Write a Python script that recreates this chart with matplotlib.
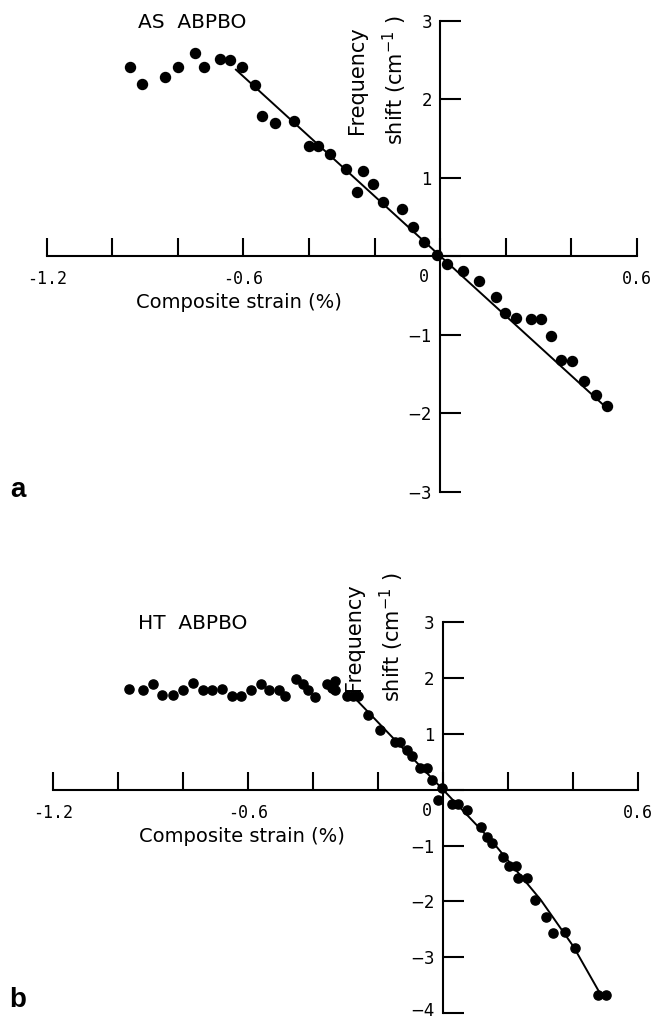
import numpy as np
import matplotlib
matplotlib.use('Agg')
import matplotlib.pyplot as plt
import matplotlib.transforms as mtransforms

############ data ############

# panel a : AS ABPBO
a_strain = [-0.946, -0.909, -0.840, -0.800, -0.749, -0.721, -0.671, -0.641, -0.603,
            -0.565, -0.542, -0.505, -0.446, -0.401, -0.373, -0.335, -0.287, -0.255,
            -0.234, -0.204, -0.174, -0.117, -0.083, -0.048, -0.010, 0.020, 0.069,
            0.119, 0.170, 0.198, 0.230, 0.276, 0.306, 0.339, 0.367, 0.402, 0.437,
            0.475, 0.510]
a_shift = [2.41, 2.20, 2.29, 2.41, 2.59, 2.41, 2.51, 2.50, 2.42,
           2.19, 1.79, 1.70, 1.72, 1.41, 1.41, 1.30, 1.11, 0.82,
           1.09, 0.92, 0.70, 0.60, 0.37, 0.18, 0.02, -0.09, -0.18,
           -0.31, -0.51, -0.72, -0.78, -0.80, -0.80, -1.01, -1.32, -1.33, -1.59,
           -1.77, -1.90]
a_fit_x = [-0.623, 0.513]
a_fit_y = [2.38, -1.95]

# panel b : HT ABPBO
b_strain = [-0.966, -0.922, -0.891, -0.863, -0.831, -0.799, -0.770, -0.739, -0.711,
            -0.681, -0.650, -0.621, -0.591, -0.560, -0.534, -0.504, -0.486, -0.452,
            -0.432, -0.414, -0.394, -0.358, -0.332, -0.342, -0.332, -0.296, -0.278,
            -0.261, -0.230, -0.194, -0.148, -0.132, -0.112, -0.097, -0.071, -0.050,
            -0.035, -0.004, -0.015, 0.026, 0.047, 0.073, 0.117, 0.134, 0.149,
            0.183, 0.204, 0.224, 0.231, 0.259, 0.283, 0.316, 0.339, 0.375,
            0.405, 0.477, 0.501]
b_shift = [1.80, 1.79, 1.89, 1.69, 1.69, 1.79, 1.91, 1.79, 1.79,
           1.80, 1.68, 1.68, 1.79, 1.89, 1.79, 1.79, 1.68, 1.98,
           1.89, 1.78, 1.66, 1.89, 1.95, 1.82, 1.78, 1.67, 1.67,
           1.67, 1.34, 1.07, 0.86, 0.86, 0.71, 0.61, 0.39, 0.39,
           0.18, 0.03, -0.18, -0.26, -0.26, -0.36, -0.67, -0.84, -0.96,
           -1.21, -1.36, -1.36, -1.58, -1.58, -1.97, -2.27, -2.57, -2.55,
           -2.83, -3.67, -3.67]
b_fit_x = [-0.27, -0.12, 0.0, 0.15, 0.30, 0.40, 0.48]
b_fit_y = [1.63, 0.72, 0.0, -0.92, -1.97, -2.80, -3.62]

xticks = [-1.2, -1.0, -0.8, -0.6, -0.4, -0.2, 0.0, 0.2, 0.4, 0.6]
xticklabels = ['-1.2', '', '', '-0.6', '', '', '', '', '', '0.6']

W, H = 653, 1019
fig = plt.figure(figsize=(W / 100, H / 100), dpi=100)

def px_axes(x0, x1, ytop, ybot):
    # axes placed from pixel positions of the data limits
    return fig.add_axes([x0 / W, 1 - ybot / H, (x1 - x0) / W, (ybot - ytop) / H])

def setup(ax, ymin, ymax):
    ax.set_xlim(-1.2, 0.6)
    ax.set_ylim(ymin, ymax)
    for s in ['top', 'right']:
        ax.spines[s].set_visible(False)
    ax.spines['left'].set_position(('data', 0))
    ax.spines['bottom'].set_position(('data', 0))
    ax.spines['left'].set_linewidth(1.5)
    ax.spines['bottom'].set_linewidth(1.5)
    ax.patch.set_alpha(0)
    ax.set_xticks(xticks)
    ax.set_xticklabels(xticklabels, family='DejaVu Sans Mono', fontsize=12)
    yt = [v for v in range(ymin, ymax + 1)]
    ax.set_yticks(yt)
    ax.set_yticklabels([str(v).replace('-', '\u2212') if v != 0 else '' for v in yt],
                       fontsize=12)
    ax.tick_params(axis='x', direction='in', length=13, width=1.5, pad=10)
    ax.tick_params(axis='y', direction='in', length=15, width=1.5, pad=6)
    # "0" sits left of the vertical axis
    ax.annotate('0', xy=(0, 0), xycoords='data', xytext=(-16, -12),
                textcoords='offset pixels', fontsize=12, ha='center', va='top',
                family='DejaVu Sans Mono')

################ panel a ################
axa = px_axes(46.7, 637, 21, 492)
setup(axa, -3, 3)
axa.plot(a_strain, a_shift, 'o', color='black', ms=7.2, clip_on=False)
axa.plot(a_fit_x, a_fit_y, '-', color='black', lw=1.4)
axa.text(-0.921, 2.98, 'AS  ABPBO', fontsize=14.5, va='center')
axa.text(-0.614, -0.59, 'Composite strain (%)', fontsize=14, va='center', ha='center')
axa.text(-0.19, 2.25, 'Frequency\nshift (cm$^{-1}$ )', rotation=90, fontsize=15,
         ha='center', va='center', linespacing=1.6)

################ panel b ################
axb = px_axes(52.7, 638.3, 622, 1013.3)
setup(axb, -4, 3)
axb.plot(b_strain, b_shift, 'o', color='black', ms=6.6, clip_on=False)
axb.plot(b_fit_x, b_fit_y, '-', color='black', lw=1.4)
axb.text(-0.938, 2.97, 'HT  ABPBO', fontsize=14.5, va='center')
axb.text(-0.618, -0.84, 'Composite strain (%)', fontsize=14, va='center', ha='center')
axb.text(-0.21, 2.73, 'Frequency\nshift (cm$^{-1}$ )', rotation=90, fontsize=15,
         ha='center', va='center', linespacing=1.6)
# lowest label sits at the figure edge, lift it a little
lab = axb.get_yticklabels()[0]
lab.set_transform(lab.get_transform() + mtransforms.ScaledTranslation(0, 4 / 100, fig.dpi_scale_trans))

fig.text(18 / W, 1 - 490 / H, 'a', fontsize=20, fontweight='bold',
         family='Liberation Sans', ha='center', va='center')
fig.text(18 / W, 1 - 1000 / H, 'b', fontsize=20, fontweight='bold',
         family='Liberation Sans', ha='center', va='center')

fig.savefig('out.png', dpi=100)
